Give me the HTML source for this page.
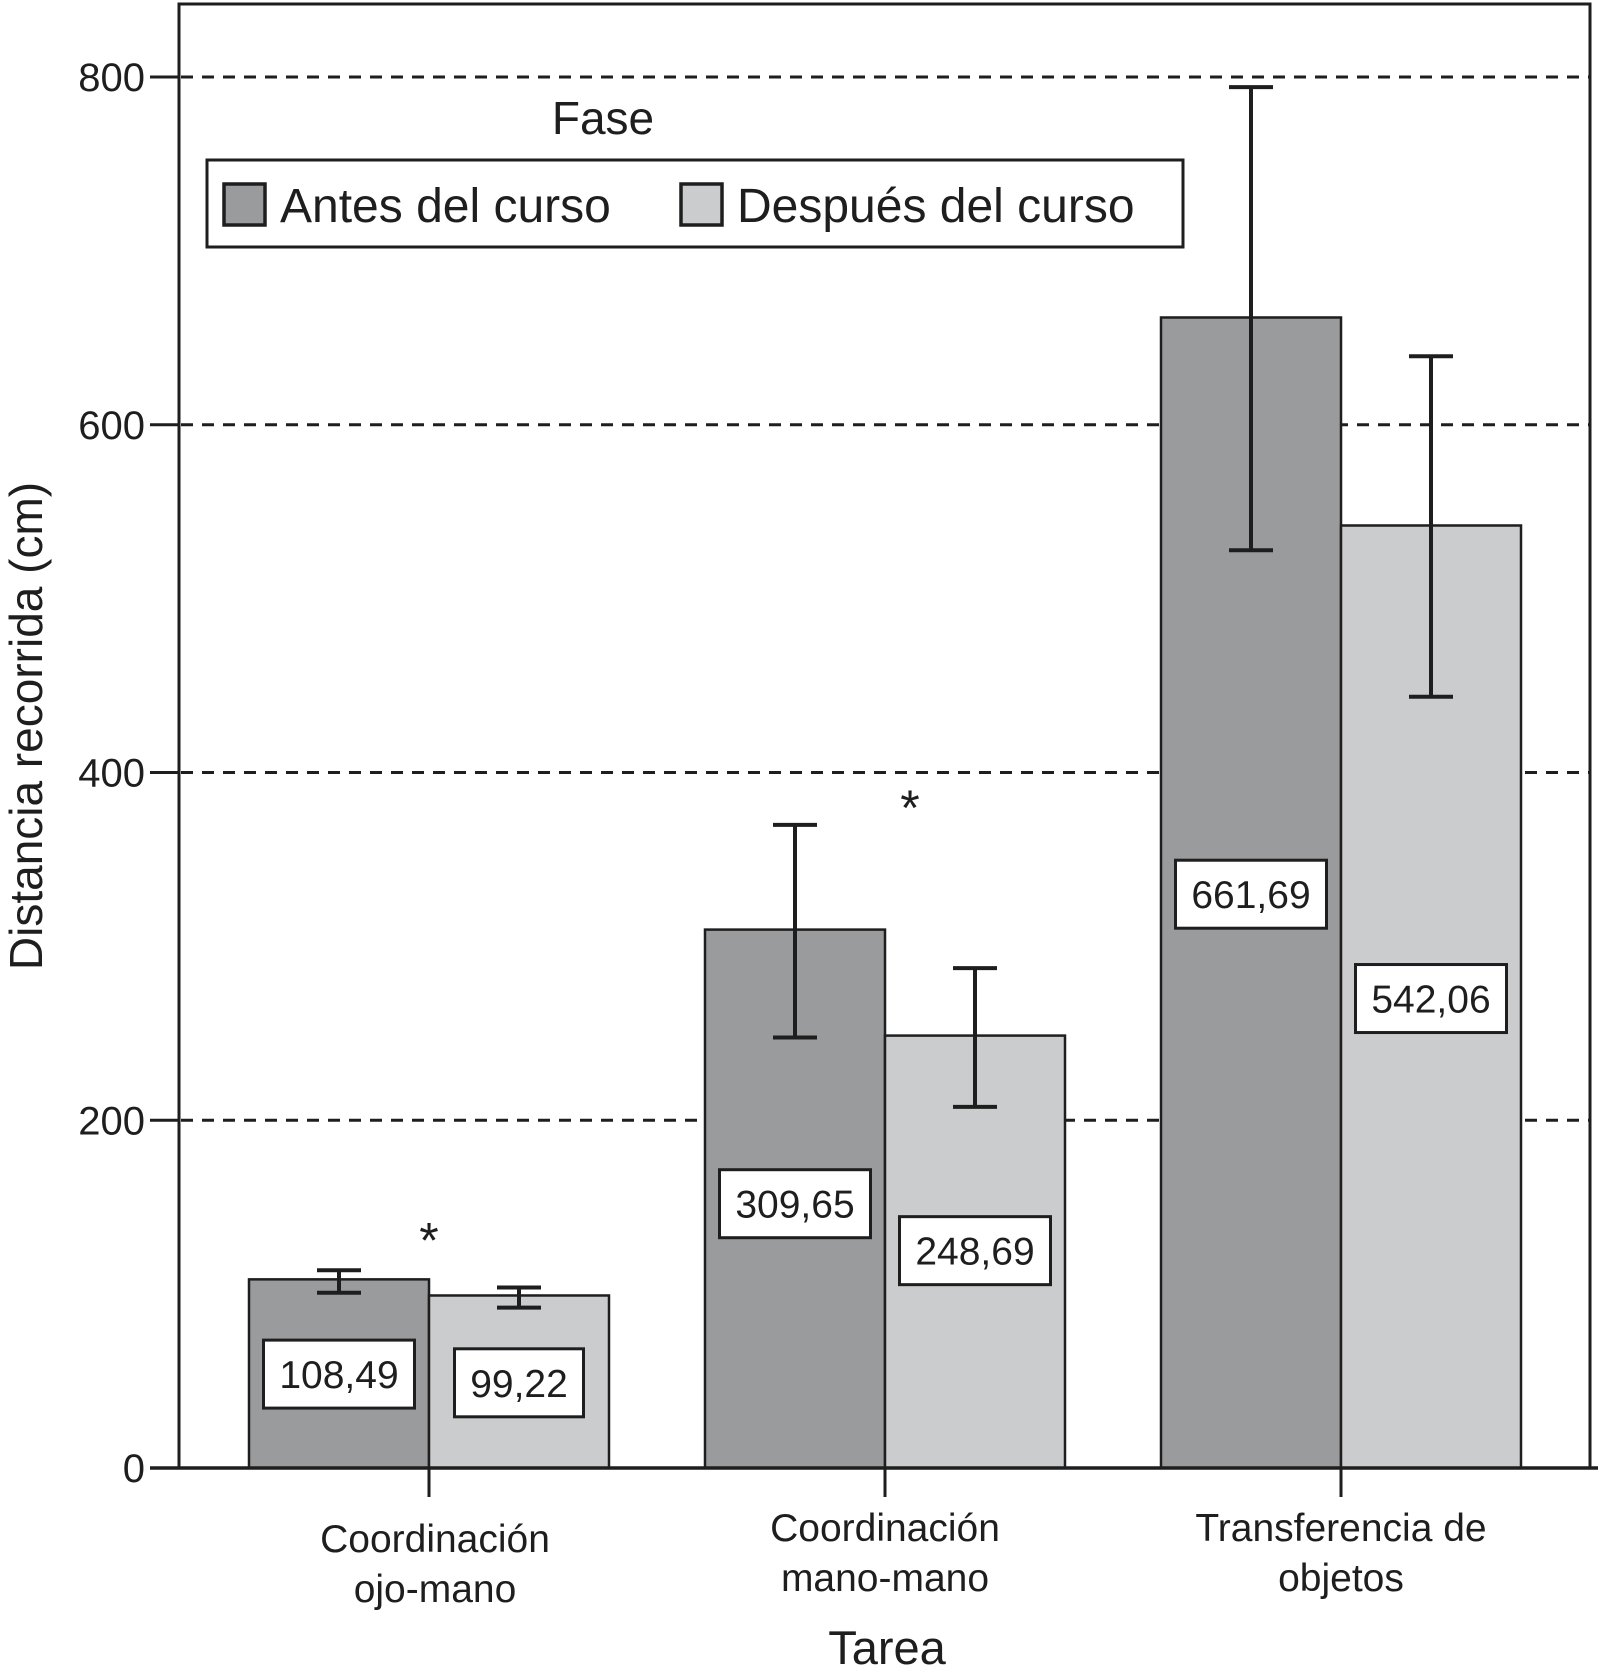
<!DOCTYPE html>
<html><head><meta charset="utf-8"><style>
html,body{margin:0;padding:0;background:#fff;}
svg{display:block;font-family:"Liberation Sans",sans-serif;}
</style></head><body>
<svg id="chart" width="1598" height="1676" viewBox="0 0 1598 1676" xmlns="http://www.w3.org/2000/svg"></svg>
<script>
const categories = [["Coordinación","ojo-mano"],["Coordinación","mano-mano"],["Transferencia de","objetos"]];
const seriesNames = ["Antes del curso","Después del curso"];
const antesValues = [108.49, 309.65, 661.69];
const despuesValues = [99.22, 248.69, 542.06];
const antesLabels = ["108,49","309,65","661,69"];
const despuesLabels = ["99,22","248,69","542,06"];
const antesErrLow = [100.8, 247.6, 527.8];
const antesErrHigh = [113.7, 369.9, 794.2];
const despuesErrLow = [92.2, 207.7, 443.6];
const despuesErrHigh = [103.8, 287.5, 639.4];
const yTicks = [0, 200, 400, 600, 800];
const antesLabelPos = [54, 152, 330];
const despuesLabelPos = [49, 125, 270];
const significant = [true, true, false];

const NS = "http://www.w3.org/2000/svg";
const svg = document.getElementById("chart");
const y0 = 1468, yScale = (1468 - 77) / 800;
const y = v => y0 - v * yScale;
const groupCenter = [429, 885, 1341];
const barW = 180;
const x = (g, s) => groupCenter[g] + (s === 0 ? -barW : 0);
function el(tag, attrs, parent) {
  const e = document.createElementNS(NS, tag);
  for (const k in attrs) e.setAttribute(k, attrs[k]);
  (parent || svg).appendChild(e);
  return e;
}
const COL = ["#9a9b9d", "#cbcccd"];
const INK = "#1e1e1e";

const frame = el("path", {d: "M179,1468 V4 H1590 V1468", fill: "none", stroke: INK, "stroke-width": 3});



yTicks.forEach(t => {
  if (t > 0) {
    const g = el("line", {x1: 181, x2: 1590, y1: y(t), y2: y(t), stroke: INK, "stroke-width": 3, "stroke-dasharray": "12 9"});
    
    
  }
  const tk = el("line", {x1: 150, x2: 180, y1: y(t), y2: y(t), stroke: INK, "stroke-width": 3});
  
  
  const lb = el("text", {x: 145, y: y(t) + 14, "text-anchor": "end", "font-size": 40, fill: INK});
  lb.textContent = t;
  
  
});

const yt = el("text", {x: 0, y: 0, "text-anchor": "middle", "font-size": 46, fill: INK, transform: "translate(42,726) rotate(-90)"});
yt.textContent = "Distancia recorrida (cm)";



const vals = [antesValues, despuesValues];
const labs = [antesLabels, despuesLabels];
const lows = [antesErrLow, despuesErrLow];
const highs = [antesErrHigh, despuesErrHigh];
const lpos = [antesLabelPos, despuesLabelPos];
for (let g = 0; g < 3; g++) {
  for (let s = 0; s < 2; s++) {
    const bx = x(g, s);
    const r = el("rect", {x: bx, y: y(vals[s][g]), width: barW, height: y0 - y(vals[s][g]), fill: COL[s], stroke: INK, "stroke-width": 2.5});
    
    
    const cx = bx + barW / 2;
    const eb = el("path", {d: `M${cx},${y(lows[s][g])} V${y(highs[s][g])} M${cx-22},${y(lows[s][g])} H${cx+22} M${cx-22},${y(highs[s][g])} H${cx+22}`, stroke: INK, "stroke-width": 4, fill: "none"});
    
    
    const bw = (s === 1 && g === 0) ? 129 : 151;
    const ly = y(lpos[s][g]);
    const box = el("rect", {x: cx - bw / 2, y: ly - 34, width: bw, height: 68, fill: "#fff", stroke: INK, "stroke-width": 3});
    
    
    const tx = el("text", {x: cx, y: ly + 14, "text-anchor": "middle", "font-size": 39, fill: INK});
    tx.textContent = labs[s][g];
    
    
  }
  if (significant[g]) {
    const top = Math.max(antesErrHigh[g], despuesErrHigh[g]);
    const st = el("text", {x: groupCenter[g] + (g === 1 ? 25 : 0), y: y(top) + (g === 1 ? 0 : -13), "text-anchor": "middle", "font-size": 50, fill: INK});
    st.textContent = "*";
    
    
  }
  const ct = el("line", {x1: groupCenter[g], x2: groupCenter[g], y1: y0, y2: 1497, stroke: INK, "stroke-width": 3});
  
  
  const ly = g === 0 ? 1552 : 1541;
  categories[g].forEach((line, i) => {
    const t = el("text", {x: groupCenter[g] + (g === 0 ? 6 : 0), y: ly + i * 50, "text-anchor": "middle", "font-size": 39, fill: INK});
    t.textContent = line;
    
    
  });
}

const ax = el("line", {x1: 150, x2: 1598, y1: y0, y2: y0, stroke: INK, "stroke-width": 3.5});



const xt = el("text", {x: 887, y: 1664, "text-anchor": "middle", "font-size": 47, fill: INK});
xt.textContent = "Tarea";



const lt = el("text", {x: 603, y: 134, "text-anchor": "middle", "font-size": 46, fill: INK});
lt.textContent = "Fase";


const lbx = el("rect", {x: 207, y: 160, width: 976, height: 87, fill: "#fff", stroke: INK, "stroke-width": 3});


const lx = [224, 681];
seriesNames.forEach((n, s) => {
  const sw = el("rect", {x: lx[s], y: 184, width: 41, height: 41, fill: COL[s], stroke: INK, "stroke-width": 3.5});
  
  
  const t = el("text", {x: lx[s] + 56, y: 222, "font-size": 48, fill: INK});
  t.textContent = n;
  
  
});
</script>
</body></html>
